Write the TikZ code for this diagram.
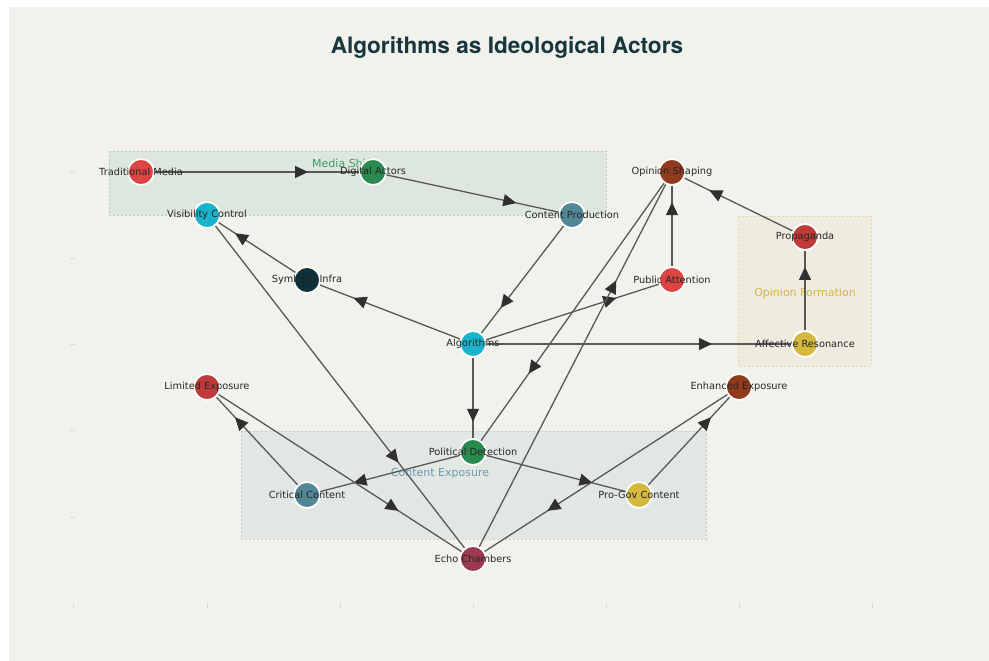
\documentclass[tikz,border=0pt]{standalone}
\usepackage{fontspec}
\setmainfont{DejaVu Sans}
\newfontfamily\titlefont{TeX Gyre Heros}
\usetikzlibrary{arrows.meta,decorations.markings}

\definecolor{panelbg}{HTML}{F2F2EC}
\definecolor{tickgray}{HTML}{DADAD4}
\definecolor{edgegray}{HTML}{585858}
\definecolor{arrowdark}{HTML}{303030}
\definecolor{titleink}{HTML}{17363E}
\definecolor{msfill}{HTML}{DEE7DE}
\definecolor{msline}{HTML}{B3CDBE}
\definecolor{msink}{HTML}{3E9B65}
\definecolor{offill}{HTML}{EFECDF}
\definecolor{ofline}{HTML}{E3D7A6}
\definecolor{ofink}{HTML}{D4B54A}
\definecolor{cefill}{HTML}{E3E7E3}
\definecolor{celine}{HTML}{C5D0D0}
\definecolor{ceink}{HTML}{6A9CAA}
\definecolor{cred}{HTML}{DE4444}
\definecolor{cgreen}{HTML}{2A8A50}
\definecolor{ccyan}{HTML}{1BB3CC}
\definecolor{cslate}{HTML}{528797}
\definecolor{cnavy}{HTML}{0E3038}
\definecolor{cbrown}{HTML}{903B1D}
\definecolor{cred2}{HTML}{C03A3A}
\definecolor{cyellow}{HTML}{D4B840}
\definecolor{cmaroon}{HTML}{9C3A52}

\pgfdeclarelayer{back}
\pgfsetlayers{back,main}

\tikzset{
  dot/.style={circle,draw=white,line width=1.8pt,fill=#1,minimum size=26pt,inner sep=0pt},
  lbl/.style={font=\fontsize{9.8}{11}\selectfont,text=black!85,inner sep=0pt},
  grp/.style={line width=0.6pt,dash pattern=on 2pt off 2pt},
  grplbl/.style={font=\fontsize{11}{12}\selectfont,text=#1},
  edge/.style={draw=edgegray,line width=1.3pt,postaction={decorate},
    decoration={markings,mark=at position 0.72 with {\arrow{Triangle[length=13pt,width=12pt,color=arrowdark]}}}},
}

\begin{document}
\begin{tikzpicture}[x=1pt,y=-1pt]
  \useasboundingbox (0,0) rectangle (989,661);
  \begin{pgfonlayer}{back}
    \fill[white] (0,0) rectangle (989,661);
    \fill[panelbg] (9,7) rectangle (989,661);
    % faint axis ticks
    \foreach \y in {172,258,344,430,517} \draw[tickgray,line width=0.6pt] (70,\y) -- (75,\y);
    \foreach \x in {73,207,340,473,606,739,872} \draw[tickgray,line width=0.6pt] (\x,603) -- (\x,608);
    % groups
    \filldraw[grp,fill=msfill,draw=msline] (109,151) rectangle (606,215);
    \filldraw[grp,fill=offill,draw=ofline] (738,216) rectangle (871,366);
    \filldraw[grp,fill=cefill,draw=celine] (241,431) rectangle (706,539);
    \node[grplbl=msink] (mslbl) at (343,163) {Media Shift};
    \node[grplbl=ofink] (oflbl) at (805,293) {Opinion Formation};
    \node[grplbl=ceink] (celbl) at (440,474) {Content Exposure};
  \end{pgfonlayer}

  \node[font=\titlefont\bfseries\fontsize{22.6}{24}\selectfont,text=titleink] (title) at (507,48) {Algorithms as Ideological Actors};

  \node[dot=cred,label={[lbl]center:Traditional Media}] (tm) at (141,172) {};
  \node[dot=cgreen,label={[lbl]center:Digital Actors}] (da) at (373,172) {};
  \node[dot=ccyan,label={[lbl]center:Visibility Control}] (vc) at (207,215) {};
  \node[dot=cslate,label={[lbl]center:Content Production}] (cp) at (572,215) {};
  \node[dot=cnavy,label={[lbl]center:Symbolic Infra}] (si) at (307,280) {};
  \node[dot=ccyan,label={[lbl]center:Algorithms}] (alg) at (473,344) {};
  \node[dot=cbrown,label={[lbl]center:Opinion Shaping}] (os) at (672,172) {};
  \node[dot=cred,label={[lbl]center:Public Attention}] (pa) at (672,280) {};
  \node[dot=cred2,label={[lbl]center:Propaganda}] (prop) at (805,237) {};
  \node[dot=cyellow,label={[lbl]center:Affective Resonance}] (ar) at (805,344) {};
  \node[dot=cred2,label={[lbl]center:Limited Exposure}] (le) at (207,387) {};
  \node[dot=cbrown,label={[lbl]center:Enhanced Exposure}] (ee) at (739,387) {};
  \node[dot=cgreen,label={[lbl]center:Political Detection}] (pd) at (473,452) {};
  \node[dot=cslate,label={[lbl]center:Critical Content}] (cc) at (307,495) {};
  \node[dot=cyellow,label={[lbl]center:Pro-Gov Content}] (pg) at (639,495) {};
  \node[dot=cmaroon,label={[lbl]center:Echo Chambers}] (ec) at (473,559) {};

  \begin{pgfonlayer}{back}
    \draw[edge] (tm.center) -- (da.center);
    \draw[edge] (da.center) -- (cp.center);
    \draw[edge] (cp.center) -- (alg.center);
    \draw[edge] (alg.center) -- (si.center);
    \draw[edge] (si.center) -- (vc.center);
    \draw[edge] (alg.center) -- (pa.center);
    \draw[edge] (pa.center) -- (os.center);
    \draw[edge] (prop.center) -- (os.center);
    \draw[edge] (ar.center) -- (prop.center);
    \draw[edge] (alg.center) -- (ar.center);
    \draw[edge] (alg.center) -- (pd.center);
    \draw[edge] (os.center) -- (pd.center);
    \draw[edge] (ec.center) -- (os.center);
    \draw[edge] (vc.center) -- (ec.center);
    \draw[edge] (pd.center) -- (cc.center);
    \draw[edge] (cc.center) -- (le.center);
    \draw[edge] (le.center) -- (ec.center);
    \draw[edge] (pd.center) -- (pg.center);
    \draw[edge] (pg.center) -- (ee.center);
    \draw[edge] (ee.center) -- (ec.center);
  \end{pgfonlayer}
\end{tikzpicture}
\end{document}
